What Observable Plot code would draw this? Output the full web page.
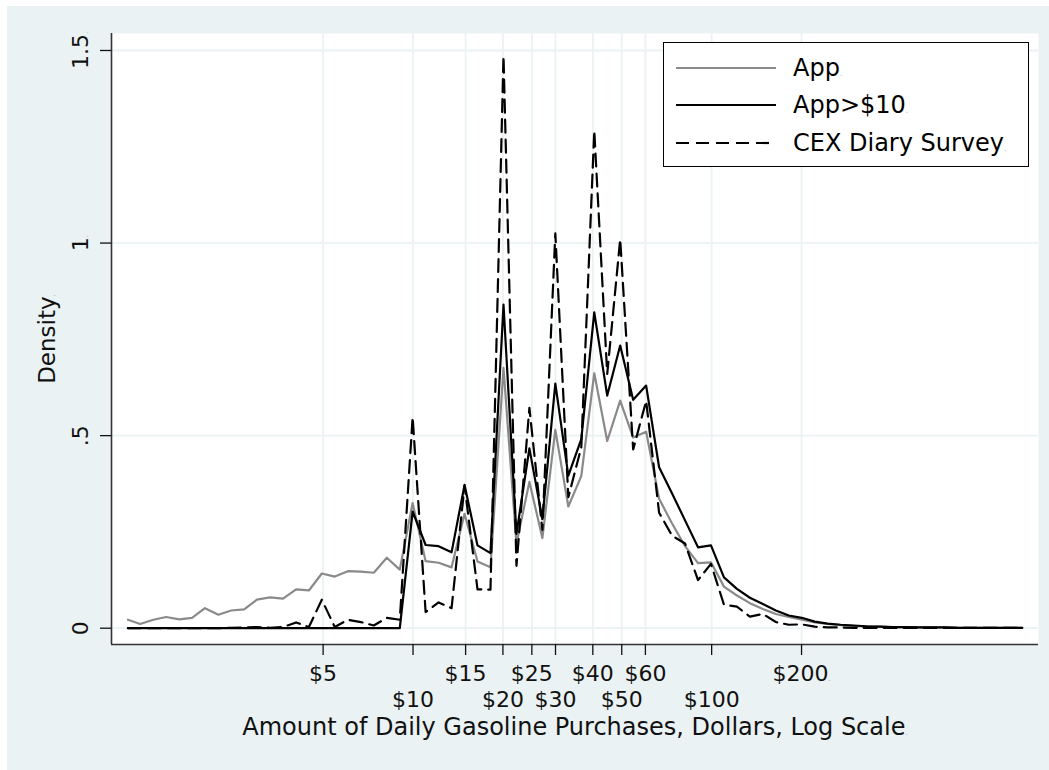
<!DOCTYPE html>
<html>
<head>
<meta charset="utf-8">
<script src="https://cdn.jsdelivr.net/npm/d3@7"></script>
<script src="https://cdn.jsdelivr.net/npm/@observablehq/plot@0.6"></script>
<style>
  html, body { margin: 0; padding: 0; background: #fff; }
  #chart { position: relative; width: 1049px; height: 770px; font-family: "DejaVu Sans", sans-serif; }
  #bg { position: absolute; left: 7px; top: 6px; width: 1042px; height: 764px; background: #eaf2f3; }
  #plot { position: absolute; left: 0; top: 0; }
  #legend { position: absolute; left: 663px; top: 42px; width: 366px; height: 125px; box-sizing: border-box;
            background: #fff; border: 1px solid #000; }
  #legend .row { position: absolute; left: 12px; height: 36px; display: flex; align-items: center; font-size: 24px; color: #000; }
  #legend .row span.t { margin-left: 17px; }
  .dot { font-size: 7px; color: #999; }
</style>
</head>
<body>
<div id="chart">
  <div id="bg"></div>
  <div id="plot"></div>
  <div id="legend"></div>
</div>
<script>
// ---------------- data ----------------
// bin centres, dollars (log bins of width 0.1)
const AMOUNT = [
  1.11, 1.22, 1.35, 1.49, 1.65, 1.82, 2.01, 2.23, 2.46, 2.72,
  3.00, 3.32, 3.67, 4.06, 4.48, 4.95, 5.47, 6.05, 6.69, 7.39,
  8.17, 9.03, 9.97, 11.02, 12.18, 13.46, 14.88, 16.44, 18.17, 20.09,
  22.20, 24.53, 27.11, 29.96, 33.12, 36.60, 40.45, 44.70, 49.40, 54.60,
  60.34, 66.69, 73.70, 81.45, 90.02, 99.48, 109.95, 121.51, 134.29, 148.41,
  164.02, 181.27, 200.34, 221.41, 244.69, 270.43, 298.87, 330.30, 365.04, 403.43,
  445.86, 492.75, 544.57, 601.85, 665.14, 735.10, 812.41, 897.85, 992.28, 1096.63
];
const APP = [
  0.022, 0.011, 0.022, 0.029, 0.023, 0.027, 0.052, 0.035, 0.046, 0.049,
  0.074, 0.080, 0.077, 0.101, 0.098, 0.142, 0.134, 0.148, 0.147, 0.144,
  0.183, 0.152, 0.325, 0.174, 0.170, 0.158, 0.297, 0.173, 0.158, 0.676,
  0.219, 0.380, 0.234, 0.515, 0.316, 0.395, 0.662, 0.486, 0.591, 0.495,
  0.510, 0.336, 0.272, 0.213, 0.169, 0.171, 0.108, 0.085, 0.065, 0.050,
  0.037, 0.029, 0.022, 0.015, 0.011, 0.008, 0.006, 0.005, 0.004, 0.003,
  0.003, 0.002, 0.002, 0.002, 0.001, 0.001, 0.001, 0.001, 0.001, 0.001
];
const APP10 = [
  0, 0, 0, 0, 0, 0, 0, 0, 0, 0,
  0, 0, 0, 0, 0, 0, 0, 0, 0, 0,
  0, 0, 0.303, 0.216, 0.213, 0.197, 0.372, 0.215, 0.195, 0.840,
  0.245, 0.467, 0.283, 0.635, 0.396, 0.491, 0.820, 0.604, 0.734, 0.593,
  0.630, 0.418, 0.350, 0.280, 0.210, 0.215, 0.132, 0.102, 0.079, 0.063,
  0.046, 0.033, 0.027, 0.017, 0.012, 0.009, 0.007, 0.005, 0.004, 0.003,
  0.003, 0.002, 0.002, 0.002, 0.001, 0.001, 0.001, 0.001, 0.001, 0.001
];
const CEX = [
  0, 0, 0, 0, 0, 0, 0, 0, 0.001, 0.002,
  0.003, 0.001, 0.003, 0.015, 0.003, 0.074, 0.003, 0.022, 0.016, 0.007,
  0.027, 0.022, 0.548, 0.042, 0.067, 0.052, 0.370, 0.101, 0.100, 1.486,
  0.162, 0.572, 0.255, 1.025, 0.340, 0.470, 1.292, 0.660, 1.010, 0.464,
  0.590, 0.300, 0.240, 0.220, 0.125, 0.167, 0.061, 0.056, 0.030, 0.037,
  0.016, 0.009, 0.010, 0.004, 0.002, 0.002, 0.001, 0.001, 0.001, 0.001,
  0.001, 0.001, 0.001, 0.001, 0.001, 0.001, 0.001, 0.001, 0.001, 0.001
];

const SERIES = ["App", "App>$10", "CEX Diary Survey"];
const X_TICKS_TOP = [5, 15, 25, 40, 60, 200];
const X_TICKS_LOW = [10, 20, 30, 50, 100];
const Y_TICKS = [0, 0.5, 1, 1.5];
const Y_LABELS = ["0", ".5", "1", "1.5"];
const X_TITLE = "Amount of Daily Gasoline Purchases, Dollars, Log Scale";
const Y_TITLE = "Density";

// ---------------- config ----------------
const X_DOMAIN = [0.978, 1243];
const Y_DOMAIN = [-0.0423, 1.5441];
const GRID = "#eaf2f3";
const STYLES = {
  "App":              { stroke: "#8a8a8a", dash: null },
  "App>$10":          { stroke: "#000000", dash: null },
  "CEX Diary Survey": { stroke: "#000000", dash: "13,7" }
};
const DOTTED = new Set(["1.5", "1", "$200", Y_TITLE, X_TITLE]);

// ---------------- helpers ----------------
function toRows(ys, name){
  return AMOUNT.map((x, i) => ({ amount: x, density: ys[i], series: name }));
}
function lineFor(name, ys){
  const s = STYLES[name];
  return Plot.line(toRows(ys, name), {
    x: "amount", y: "density",
    stroke: s.stroke, strokeWidth: 2.2,
    strokeDasharray: s.dash ?? undefined,
    strokeLinejoin: "round"
  });
}
const dollar = d => "$" + d;

// ---------------- plot ----------------
const fig = Plot.plot({
  width: 1049, height: 770,
  marginLeft: 111, marginRight: 11, marginTop: 33, marginBottom: 126,
  style: { background: "transparent", fontFamily: "DejaVu Sans", color: "#111" },
  x: { type: "log", domain: X_DOMAIN },
  y: { domain: Y_DOMAIN, axis: null },
  marks: [
    Plot.frame({ fill: "white", stroke: null }),
    Plot.gridX([...X_TICKS_TOP, ...X_TICKS_LOW], { stroke: GRID, strokeOpacity: 1, strokeWidth: 1.8 }),
    Plot.gridY(Y_TICKS, { stroke: GRID, strokeOpacity: 1, strokeWidth: 1.8 }),
    lineFor("App", APP),
    lineFor("App>$10", APP10),
    lineFor("CEX Diary Survey", CEX),
    Plot.ruleX([X_DOMAIN[0]], { stroke: "#333", strokeWidth: 1.6 }),
    Plot.ruleY([Y_DOMAIN[0]], { stroke: "#333", strokeWidth: 1.6 }),
    // tick marks only; labels are drawn below in two staggered rows
    Plot.axisX([...X_TICKS_TOP, ...X_TICKS_LOW], { anchor: "bottom", tickSize: 11,
      tickFormat: () => "", label: null, strokeWidth: 1.3 }),
    Plot.axisY(Y_TICKS, { anchor: "left", tickSize: 11, tickFormat: () => "", label: null, strokeWidth: 1.3 }),
    Plot.text(X_TICKS_TOP, { x: d => d, text: dollar, frameAnchor: "bottom", dy: 20.5,
      lineAnchor: "top", fontSize: 22, fill: "#111" }),
    Plot.text(X_TICKS_LOW, { x: d => d, text: dollar, frameAnchor: "bottom", dy: 47,
      lineAnchor: "top", fontSize: 22, fill: "#111" }),
    Plot.text(Y_TICKS, { y: d => d, text: (d, i) => Y_LABELS[i], frameAnchor: "left", dx: -24,
      rotate: -90, textAnchor: "middle", lineAnchor: "bottom", fontSize: 22, fill: "#111" }),
    Plot.text([Y_TITLE], { text: d => d, frameAnchor: "left", dx: -57, rotate: -90,
      textAnchor: "middle", lineAnchor: "bottom", fontSize: 23, fill: "#111" }),
    Plot.text([X_TITLE], { text: d => d, frameAnchor: "bottom", dy: 73,
      lineAnchor: "top", fontSize: 24, fill: "#111" })
  ]
});

// tiny trailing dots that the original export leaves after some labels
fig.querySelectorAll("text").forEach(t => {
  if (DOTTED.has(t.textContent)) {
    const ts = document.createElementNS("http://www.w3.org/2000/svg", "tspan");
    ts.setAttribute("font-size", "7");
    ts.setAttribute("fill", "#999");
    ts.textContent = ".";
    t.appendChild(ts);
  }
});

document.getElementById("plot").appendChild(fig);

// ---------------- legend ----------------
const legend = document.getElementById("legend");
const ROW_Y = [24.7, 62.3, 99.7];
SERIES.forEach((name, i) => {
  const s = STYLES[name];
  const row = document.createElement("div");
  row.className = "row";
  row.style.top = (ROW_Y[i] - 18) + "px";
  row.innerHTML =
    `<svg width="100" height="6"><line x1="0" y1="3" x2="100" y2="3" stroke="${s.stroke}" stroke-width="2.2"` +
    (s.dash ? ` stroke-dasharray="${s.dash}"` : "") + `/></svg>` +
    `<span class="t">${name.replace(">", "&gt;")}<span class="dot">.</span></span>`;
  legend.appendChild(row);
});
</script>
</body>
</html>
